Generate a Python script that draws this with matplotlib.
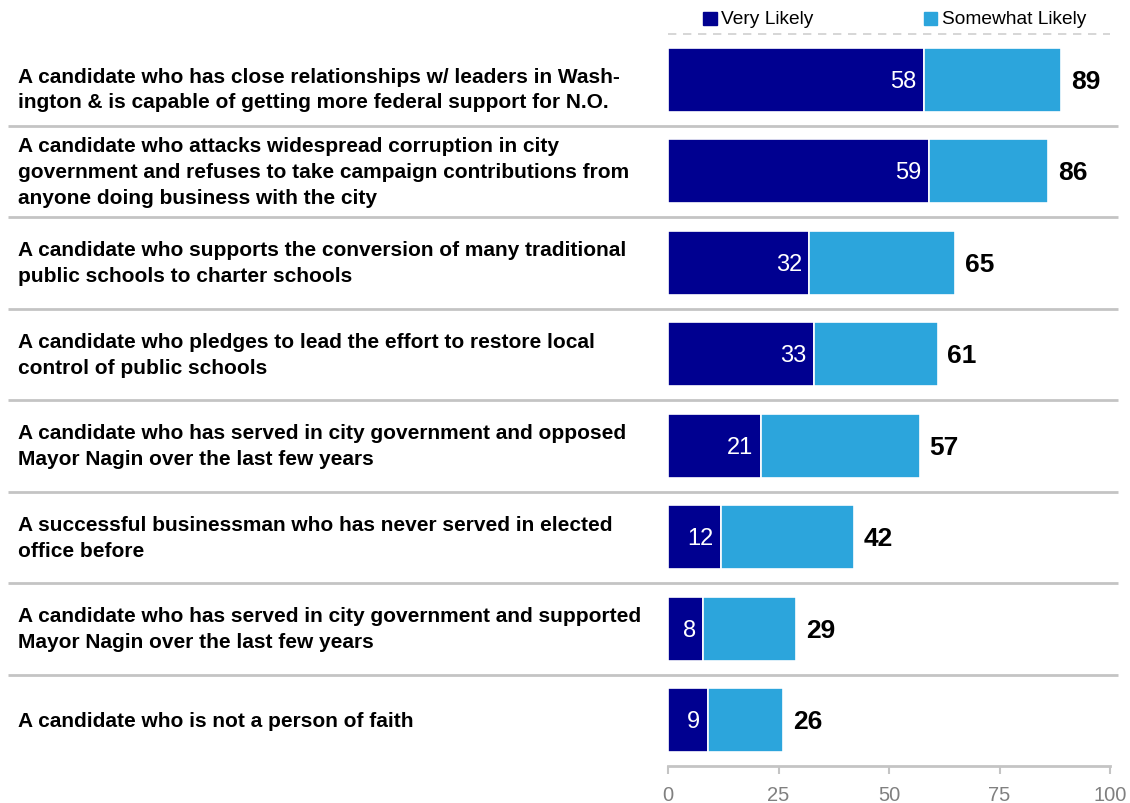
import matplotlib
matplotlib.use("Agg")
import matplotlib.pyplot as plt
from matplotlib.transforms import blended_transform_factory

plt.rcParams['font.family'] = ['Liberation Sans', 'DejaVu Sans']

statements = [
    "A candidate who has close relationships w/ leaders in Wash-\nington & is capable of getting more federal support for N.O.",
    "A candidate who attacks widespread corruption in city\ngovernment and refuses to take campaign contributions from\nanyone doing business with the city",
    "A candidate who supports the conversion of many traditional\npublic schools to charter schools",
    "A candidate who pledges to lead the effort to restore local\ncontrol of public schools",
    "A candidate who has served in city government and opposed\nMayor Nagin over the last few years",
    "A successful businessman who has never served in elected\noffice before",
    "A candidate who has served in city government and supported\nMayor Nagin over the last few years",
    "A candidate who is not a person of faith",
]
very_likely = [58, 59, 32, 33, 21, 12, 8, 9]
total_likely = [89, 86, 65, 61, 57, 42, 29, 26]
somewhat_likely = [t - v for t, v in zip(total_likely, very_likely)]
x_ticks = [0, 25, 50, 75, 100]
series_names = ["Very Likely", "Somewhat Likely"]

DARK = "#000090"
LIGHT = "#2CA5DC"
GRID = "#C4C4C4"

fig = plt.figure(figsize=(11.30, 8.04), dpi=100)
ax = fig.add_axes([668 / 1130, 1 - 767 / 804, (1110 - 668) / 1130, (767 - 35) / 804])

rows = list(range(len(statements)))
ax.barh(rows, very_likely, height=0.70, color=DARK, edgecolor="white", linewidth=1.2)
ax.barh(rows, somewhat_likely, left=very_likely, height=0.70, color=LIGHT,
        edgecolor="white", linewidth=1.2)

for r, v, t in zip(rows, very_likely, total_likely):
    ax.text(v - 1.7, r + 0.01, str(v), color="white", fontsize=17, ha="right", va="center")
    ax.text(t + 2.2, r + 0.01, str(t), color="black", fontsize=19, fontweight="bold",
            ha="left", va="center")

ax.set_xlim(0, 100)
ax.set_ylim(len(statements) - 0.5, -0.5)

# statement labels on the left (first one sits a little lower in its row)
label_tr = blended_transform_factory(fig.transFigure, ax.transData)
for r, s in zip(rows, statements):
    dy = 0.1 if r == 0 else 0.0
    fig.text(18 / 1130, r + dy, s, fontsize=15, fontweight="bold", ha="left", va="center",
             linespacing=1.45, transform=label_tr)

# row separators spanning the full width
for r in rows[:-1]:
    ax.plot([8 / 1130, 1118 / 1130], [r + 0.5, r + 0.5], color=GRID, lw=2.0,
            transform=label_tr, clip_on=False, solid_capstyle="butt")
# dashed top border
ax.plot([0, 100], [-0.5, -0.5], color="#D0D0D0", lw=1.2, ls=(0, (5, 4)), clip_on=False)

for side in ["top", "right", "left"]:
    ax.spines[side].set_visible(False)
ax.spines["bottom"].set_color(GRID)
ax.spines["bottom"].set_linewidth(2.0)
ax.set_yticks([])
ax.set_xticks(x_ticks)
ax.set_xticklabels([str(t) for t in x_ticks])
ax.tick_params(axis="x", colors=GRID, length=6, width=1.5, pad=8, labelsize=14.5,
               labelcolor="#808080")

# legend along the top
leg_tr = blended_transform_factory(ax.transData, fig.transFigure)
for xpos, name, col in [(8.0, series_names[0], DARK), (57.9, series_names[1], LIGHT)]:
    fig.patches.append(plt.Rectangle((xpos, 1 - 26 / 804), 3.0, 13 / 804, color=col,
                                     transform=leg_tr, figure=fig))
    fig.text(xpos + 4.0, 1 - 19 / 804, name, fontsize=13.8, ha="left", va="center",
             transform=leg_tr)

fig.savefig("out.png", dpi=100, facecolor="white")
